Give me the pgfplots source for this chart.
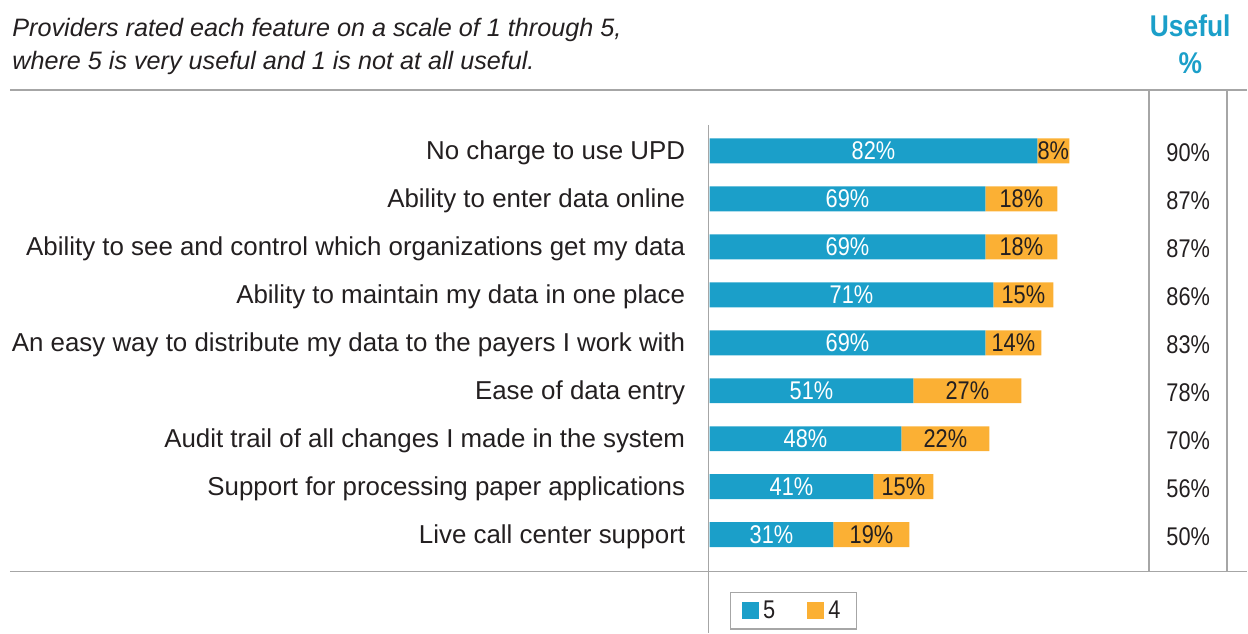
\documentclass[border=0pt]{standalone}
\usepackage{pgfplots}
\usepackage{pgfplotstable}
\pgfplotsset{compat=1.18}
\usepackage{fontspec}
\setmainfont{Liberation Sans}[BoldFeatures={FakeStretch=0.88}]
\newfontfamily\numfont{Liberation Sans}[FakeStretch=0.85]
\definecolor{cblue}{HTML}{1B9FC9}
\definecolor{corange}{HTML}{FBB034}
\definecolor{cgray}{HTML}{A6A6A6}
\definecolor{ctext}{HTML}{231F20}
\newcommand{\lf}{\fontsize{12.95}{15}\selectfont}
\newcommand{\nf}{\numfont\fontsize{12.8}{15}\selectfont}
\pgfplotstableread{
y five four useful
0 82 8  90
1 69 18 87
2 69 18 87
3 71 15 86
4 69 14 83
5 51 27 78
6 48 22 70
7 41 15 56
8 31 19 50
}\data
\pgfplotsset{
  common/.style={
    scale only axis,
    width=220pt, height=240.96pt,
    xmin=0, xmax=110,
    ymin=-1.27, ymax=8.77, y dir=reverse,
    enlargelimits=false,
    clip=false,
  },
}
\begin{document}
\begin{tikzpicture}
\begin{axis}[
  common,
  xbar stacked, bar width=0.52,
  axis line style={draw=none},
  xtick=\empty,
  ytick={0,...,8},
  yticklabels={No charge to use UPD,
    Ability to enter data online,
    Ability to see and control which organizations get my data,
    Ability to maintain my data in one place,
    An easy way to distribute my data to the payers I work with,
    Ease of data entry,
    Audit trail of all changes I made in the system,
    Support for processing paper applications,
    Live call center support},
  major tick length=0pt,
  ytick style={draw=none},
  yticklabel style={font=\lf, text=ctext, anchor=east, inner sep=0pt, xshift=-12pt, yshift=-1pt},
  legend columns=2,
  legend style={at={(axis cs:5,9.19)}, anchor=north west, draw=cgray, line width=0.7pt,
     font=\nf, text=ctext, inner xsep=6pt, inner ysep=2pt,
     /tikz/every even column/.append style={column sep=14pt}},
  legend image code/.code={\fill[#1] (0pt,-4.25pt) rectangle (8.5pt,4.25pt);},
]
\addplot[fill=cblue, draw=none] table[x=five, y=y] {\data};
\addlegendentry{5}
\addplot[fill=corange, draw=none] table[x=four, y=y] {\data};
\addlegendentry{4}
\coordinate (TL) at (axis cs:-177.5,-3.1458);
\coordinate (BR) at (axis cs:134.5,10.0417);
\end{axis}
\begin{axis}[
  common,
  hide axis,
  point meta=explicit symbolic,
  nodes near coords={\pgfplotspointmeta\%},
  every node near coord/.append style={font=\nf, anchor=center, inner sep=0pt},
]
\addplot[only marks, mark=none, every node near coord/.append style={text=white}]
  table[x expr=\thisrow{five}/2, y=y, meta=five] {\data};
\addplot[only marks, mark=none, every node near coord/.append style={text=ctext}]
  table[x expr=\thisrow{five}+\thisrow{four}/2, y=y, meta=four] {\data};
\addplot[only marks, mark=none, every node near coord/.append style={text=ctext, yshift=-1pt}]
  table[x expr=119.75, y=y, meta=useful] {\data};
\end{axis}
\pgfresetboundingbox
\path (TL) rectangle (BR);
\begin{scope}[shift={(TL)}, x=0.5pt, y=-0.5pt]
  \draw[cgray, line width=0.8pt] (10,90) -- (1248,90);
  \draw[cgray, line width=0.8pt] (10,572) -- (1248,572);
  \draw[cgray, line width=0.8pt] (1150,90) -- (1150,572);
  \draw[cgray, line width=0.8pt] (1228,90) -- (1228,572);
  \draw[cgray, line width=0.8pt] (709,125) -- (709,633);
  \node[anchor=base west, inner sep=0pt, font=\fontsize{12.6}{15}\selectfont\itshape, text=ctext] at (12,37)
    {Providers rated each feature on a scale of 1 through 5,};
  \node[anchor=base west, inner sep=0pt, font=\fontsize{12.6}{15}\selectfont\itshape, text=ctext] at (12,70)
    {where 5 is very useful and 1 is not at all useful.};
  \node[anchor=base, inner sep=0pt, font=\fontsize{15}{17}\selectfont\bfseries, text=cblue] at (1191,37) {Useful};
  \node[anchor=base, inner sep=0pt, font=\fontsize{15}{17}\selectfont\bfseries, text=cblue] at (1191,74) {\%};
\end{scope}
\end{tikzpicture}
\end{document}
